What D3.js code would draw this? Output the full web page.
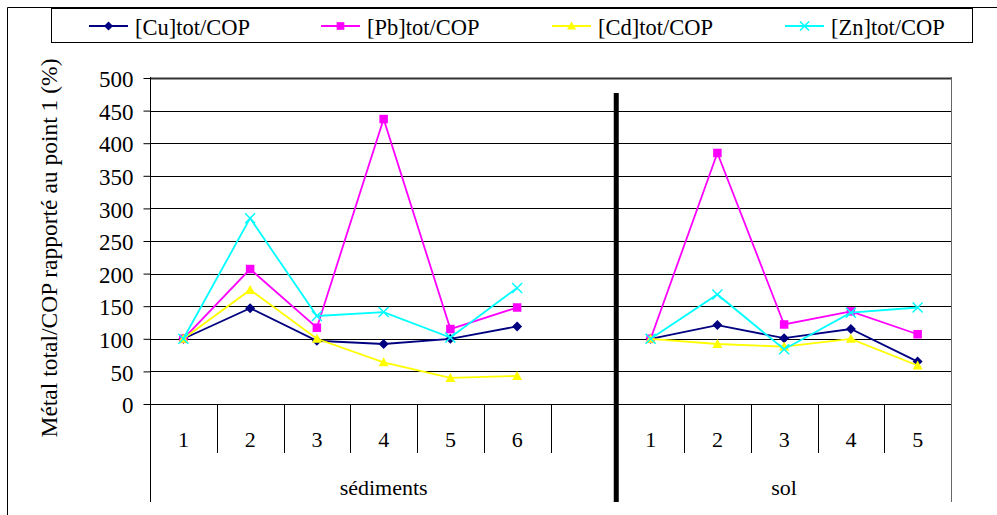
<!DOCTYPE html>
<html><head><meta charset="utf-8">
<script src="https://cdn.jsdelivr.net/npm/d3@7/dist/d3.min.js"></script>
<style>body{margin:0;background:#fff}</style>
</head><body>
<svg id="c" width="997" height="515"></svg>
<script>
const groups = ["sédiments", "sol"];
const sedCats = ["1","2","3","4","5","6",""];
const solCats = ["1","2","3","4","5"];
const seriesNames = ["[Cu]tot/COP","[Pb]tot/COP","[Cd]tot/COP","[Zn]tot/COP"];
const colors = ["#000080","#FF00FF","#FFFF00","#00FFFF"];
const symbols = ["diamond","square","triangle","cross"];
const sedCu = [100,147,97,92,100,119];
const sedPb = [100,207,117,437,115,148];
const sedCd = [100,175,100,64,40,43];
const sedZn = [100,285,135,141,102,178];
const solCu = [100,121,101,115,65];
const solPb = [100,385,122,142,107];
const solCd = [100,92,88,100,59];
const solZn = [100,168,84,140,148];
const yTicks = [0,50,100,150,200,250,300,350,400,450,500];
const yLabel = "Métal total/COP rapporté au point 1 (%)";

const FONT = "Liberation Serif";
const sedVals = [sedCu, sedPb, sedCd, sedZn];
const solVals = [solCu, solPb, solCd, solZn];

const svg = d3.select("#c").attr("font-family", FONT);
const slots = sedCats.map((c,i)=>"s"+i).concat(solCats.map((c,i)=>"o"+i));
const x = d3.scaleBand().domain(slots).range([150, 951]);
const y = d3.scaleLinear().domain([0,500]).range([404,78]);

// outer frame
svg.append("path").attr("d","M7.5,515V7.5H997").attr("fill","none").attr("stroke","#000").attr("stroke-width",1);

// gridlines
svg.append("g").selectAll("line").data(yTicks).join("line")
  .attr("x1",150).attr("x2",951)
  .attr("y1",d=>Math.round(y(d))+0.5).attr("y2",d=>Math.round(y(d))+0.5)
  .attr("stroke",d=>d===500?"#333":"#000").attr("stroke-width",d=>d===500?2:1);

// y axis
const ya = svg.append("g").attr("transform","translate(150.5,0)")
  .call(d3.axisLeft(y).tickValues(yTicks).tickSize(7).tickPadding(10).tickFormat(d3.format("d")));
ya.attr("font-family", FONT);
ya.select(".domain").remove();
ya.selectAll(".tick line").attr("stroke","#000");
ya.selectAll(".tick text").attr("font-size","23px").attr("fill","#000").attr("font-family",FONT).attr("dy","0.38em");
svg.append("line").attr("x1",150.5).attr("x2",150.5).attr("y1",77).attr("y2",502).attr("stroke","#000");
// right border
svg.append("line").attr("x1",951.5).attr("x2",951.5).attr("y1",77).attr("y2",502).attr("stroke","#666");

// category ticks
const bounds = slots.slice(1).map(s=>x(s)).filter((v,i)=>slots[i+1]!=="o0");
svg.append("g").selectAll("line").data(bounds).join("line")
  .attr("x1",d=>Math.round(d)+0.5).attr("x2",d=>Math.round(d)+0.5)
  .attr("y1",404).attr("y2",453).attr("stroke","#000");

// category labels
const catLab = sedCats.map((c,i)=>({k:"s"+i,t:c})).concat(solCats.map((c,i)=>({k:"o"+i,t:c})));
svg.append("g").selectAll("text").data(catLab).join("text")
  .attr("x",d=>x(d.k)+x.bandwidth()/2).attr("y",447).attr("font-family",FONT)
  .attr("text-anchor","middle").attr("font-size","22px").text(d=>d.t);
const gpos = [ (x("s0")+x("s6")+x.bandwidth())/2, (x("o0")+x("o4")+x.bandwidth())/2 ];
svg.append("g").selectAll("text").data(groups).join("text").attr("font-family",FONT)
  .attr("x",(d,i)=>gpos[i]).attr("y",495).attr("text-anchor","middle").attr("font-size","22px").text(d=>d);

// thick separator
svg.append("line").attr("x1",x("o0")-1).attr("x2",x("o0")-1).attr("y1",93).attr("y2",502)
  .attr("stroke","#000").attr("stroke-width",5);

// y label
svg.append("text").attr("transform","translate(57,248) rotate(-90)").attr("text-anchor","middle")
  .attr("font-family",FONT).attr("font-size","23.5px").text(yLabel);

function marker(g, type, cx, cy, col, s) {
  if (type==="diamond") g.append("path").attr("d",`M${cx},${cy-s}L${cx+s},${cy}L${cx},${cy+s}L${cx-s},${cy}Z`).attr("fill",col);
  else if (type==="square") g.append("rect").attr("x",cx-s*0.85).attr("y",cy-s*0.85).attr("width",s*1.7).attr("height",s*1.7).attr("fill",col);
  else if (type==="triangle") g.append("path").attr("d",`M${cx},${cy-s}L${cx+s},${cy+s*0.8}L${cx-s},${cy+s*0.8}Z`).attr("fill",col);
  else g.append("path").attr("d",`M${cx-s},${cy-s}L${cx+s},${cy+s}M${cx-s},${cy+s}L${cx+s},${cy-s}`).attr("stroke",col).attr("stroke-width",1.5);
}

const line = d3.line().x(d=>x(d.k)+x.bandwidth()/2).y(d=>y(d.v));
seriesNames.forEach((n,si)=>{
  const g = svg.append("g");
  const parts = [sedVals[si].map((v,i)=>({k:"s"+i,v})), solVals[si].map((v,i)=>({k:"o"+i,v}))];
  parts.forEach(p=>{
    g.append("path").attr("d",line(p)).attr("fill","none").attr("stroke",colors[si]).attr("stroke-width",1.8);
    p.forEach(d=>marker(g, symbols[si], x(d.k)+x.bandwidth()/2, y(d.v), colors[si], 5));
  });
});

// legend
svg.append("rect").attr("x",51.5).attr("y",8.5).attr("width",921).attr("height",34).attr("fill","#fff").attr("stroke","#000");
const lx = [89, 321, 552, 785];
seriesNames.forEach((n,i)=>{
  const g = svg.append("g");
  g.append("line").attr("x1",lx[i]).attr("x2",lx[i]+39).attr("y1",26).attr("y2",26).attr("stroke",colors[i]).attr("stroke-width",2);
  marker(g, symbols[i], lx[i]+19.5, 26, colors[i], 4.5);
  g.append("text").attr("x",lx[i]+46).attr("y",35).attr("font-family",FONT).attr("font-size","22.5px").text(n);
});
</script>
</body></html>
